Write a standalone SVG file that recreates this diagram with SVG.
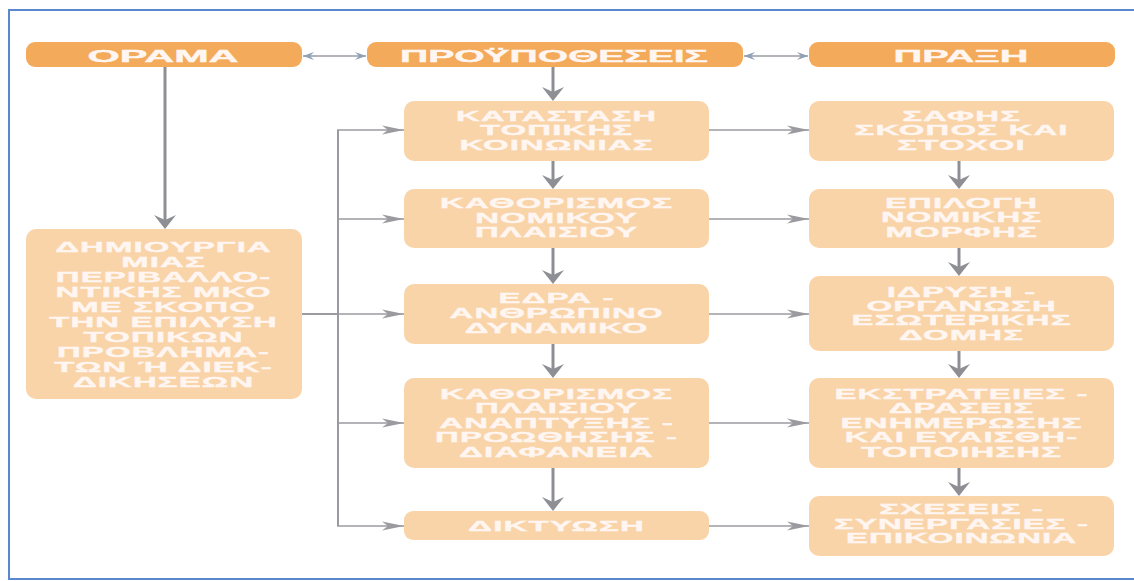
<svg xmlns="http://www.w3.org/2000/svg" width="1134" height="581" viewBox="0 0 1134 581">
<style>
.hdr{fill:#F4AA5B}
.box{fill:#F9D4A9}
.ht{font-family:"Liberation Sans",Arial,sans-serif;font-weight:bold;font-size:17px;fill:#FFF6F2;stroke:#FFF6F2;stroke-width:0.4;text-anchor:middle}
.bt{font-family:"Liberation Sans",Arial,sans-serif;font-weight:bold;font-size:14px;letter-spacing:0.5px;fill:#FFF6F2;stroke:#FFF6F2;stroke-width:0.35;text-anchor:middle}
.v{stroke:#8E8E95;stroke-width:3;fill:none;marker-end:url(#va)}
.h{stroke:#9A9AA0;stroke-width:1.6;fill:none;marker-end:url(#ha)}
.bus{stroke:#9A9AA0;stroke-width:2;fill:none}
.d{stroke:#9A9CA3;stroke-width:1.5;fill:none;marker-start:url(#da);marker-end:url(#da)}
</style>
<defs>
<marker id="va" markerUnits="userSpaceOnUse" viewBox="-15 -12 16 24" refX="-4" refY="0" markerWidth="16" markerHeight="24" orient="auto">
<path d="M0,0 L-14,-11 L-9,0 L-14,11 Z" fill="#8E8E95"/>
</marker>
<marker id="ha" markerUnits="userSpaceOnUse" viewBox="-25 -6 26 12" refX="0" refY="0" markerWidth="26" markerHeight="12" orient="auto">
<path d="M0,0 L-22,-4.5 L-16,0 L-22,4.5 Z" fill="#9A9AA0"/>
</marker>
<marker id="da" markerUnits="userSpaceOnUse" viewBox="-12 -5 13 10" refX="0" refY="0" markerWidth="13" markerHeight="10" orient="auto-start-reverse">
<path d="M0,0 L-11,-4 L-7,0 L-11,4 Z" fill="#8FA0B6"/>
</marker>
</defs>
<rect width="1134" height="581" fill="#FFFFFF"/>
<rect x="9" y="10" width="1135" height="569" fill="none" stroke="#5A88CC" stroke-width="2"/>

<g id="connectors">
<line class="d" x1="303" y1="56" x2="366" y2="56"/>
<line class="d" x1="744" y1="56" x2="808" y2="56"/>
<line class="v" x1="165" y1="67" x2="165" y2="225"/>
<line class="v" x1="553" y1="67" x2="553" y2="97"/>
<line class="v" x1="553" y1="161" x2="553" y2="185"/>
<line class="v" x1="553" y1="248" x2="553" y2="280"/>
<line class="v" x1="553" y1="344" x2="553" y2="374"/>
<line class="v" x1="553" y1="468" x2="553" y2="507"/>
<line class="v" x1="959" y1="161" x2="959" y2="185"/>
<line class="v" x1="959" y1="248" x2="959" y2="272"/>
<line class="v" x1="959" y1="351" x2="959" y2="374"/>
<line class="v" x1="959" y1="468" x2="959" y2="492"/>
<polyline class="bus" points="338,130 338,526"/>
<line class="bus" x1="301" y1="314" x2="338" y2="314"/>
<line class="h" x1="337" y1="130" x2="404" y2="130"/>
<line class="h" x1="337" y1="219" x2="404" y2="219"/>
<line class="h" x1="337" y1="314" x2="404" y2="314"/>
<line class="h" x1="337" y1="423" x2="404" y2="423"/>
<line class="h" x1="337" y1="526" x2="404" y2="526"/>
<line class="h" x1="709" y1="130" x2="809" y2="130"/>
<line class="h" x1="709" y1="219" x2="809" y2="219"/>
<line class="h" x1="709" y1="314" x2="809" y2="314"/>
<line class="h" x1="709" y1="423" x2="809" y2="423"/>
<line class="h" x1="709" y1="526" x2="809" y2="526"/>
</g>

<g id="orama">
<rect class="hdr" x="26" y="42" width="276" height="25" rx="9"/>
<text class="ht" x="163" y="62" textLength="151" lengthAdjust="spacingAndGlyphs">ΟΡΑΜΑ</text>
</g>
<g id="proypotheseis">
<rect class="hdr" x="367" y="42" width="376" height="25" rx="9"/>
<text class="ht" x="554" y="62" textLength="308" lengthAdjust="spacingAndGlyphs">ΠΡΟΫΠΟΘΕΣΕΙΣ</text>
</g>
<g id="praxi">
<rect class="hdr" x="809" y="42" width="306" height="25" rx="9"/>
<text class="ht" x="961" y="62" textLength="135" lengthAdjust="spacingAndGlyphs">ΠΡΑΞΗ</text>
</g>

<g id="dimiourgia">
<rect class="box" x="26" y="229" width="276" height="170" rx="10"/>
<g transform="translate(163,0) scale(2.35,1)">
<text class="bt" x="0.25" y="252">ΔΗΜΙΟΥΡΓΙΑ</text>
<text class="bt" x="0.25" y="267">ΜΙΑΣ</text>
<text class="bt" x="0.25" y="282">ΠΕΡΙΒΑΛΛΟ-</text>
<text class="bt" x="0.25" y="297">ΝΤΙΚΗΣ ΜΚΟ</text>
<text class="bt" x="0.25" y="312">ΜΕ ΣΚΟΠΟ</text>
<text class="bt" x="0.25" y="327">ΤΗΝ ΕΠΙΛΥΣΗ</text>
<text class="bt" x="0.25" y="342">ΤΟΠΙΚΩΝ</text>
<text class="bt" x="0.25" y="357">ΠΡΟΒΛΗΜΑ-</text>
<text class="bt" x="0.25" y="372">ΤΩΝ Ή ΔΙΕΚ-</text>
<text class="bt" x="0.25" y="387">ΔΙΚΗΣΕΩΝ</text>
</g>
</g>

<g id="katastasi">
<rect class="box" x="404" y="101" width="305" height="60" rx="10"/>
<g transform="translate(556,0) scale(2.35,1)">
<text class="bt" x="0.25" y="121">ΚΑΤΑΣΤΑΣΗ</text>
<text class="bt" x="0.25" y="135.5">ΤΟΠΙΚΗΣ</text>
<text class="bt" x="0.25" y="150">ΚΟΙΝΩΝΙΑΣ</text>
</g>
</g>
<g id="kathorismos-nomikou">
<rect class="box" x="404" y="189" width="305" height="59" rx="10"/>
<g transform="translate(556,0) scale(2.35,1)">
<text class="bt" x="0.25" y="208.5">ΚΑΘΟΡΙΣΜΟΣ</text>
<text class="bt" x="0.25" y="223">ΝΟΜΙΚΟΥ</text>
<text class="bt" x="0.25" y="237.5">ΠΛΑΙΣΙΟΥ</text>
</g>
</g>
<g id="edra">
<rect class="box" x="404" y="284" width="305" height="60" rx="10"/>
<g transform="translate(556,0) scale(2.35,1)">
<text class="bt" x="0.25" y="303.5">ΕΔΡΑ -</text>
<text class="bt" x="0.25" y="318.5">ΑΝΘΡΩΠΙΝΟ</text>
<text class="bt" x="0.25" y="333.5">ΔΥΝΑΜΙΚΟ</text>
</g>
</g>
<g id="kathorismos-plaisiou">
<rect class="box" x="404" y="378" width="305" height="90" rx="10"/>
<g transform="translate(556,0) scale(2.35,1)">
<text class="bt" x="0.25" y="399">ΚΑΘΟΡΙΣΜΟΣ</text>
<text class="bt" x="0.25" y="413.4">ΠΛΑΙΣΙΟΥ</text>
<text class="bt" x="0.25" y="427.8">ΑΝΑΠΤΥΞΗΣ -</text>
<text class="bt" x="0.25" y="442.2">ΠΡΟΩΘΗΣΗΣ -</text>
<text class="bt" x="0.25" y="456.6">ΔΙΑΦΑΝΕΙΑ</text>
</g>
</g>
<g id="diktyosi">
<rect class="box" x="404" y="511" width="305" height="29" rx="9"/>
<g transform="translate(556,0) scale(2.35,1)">
<text class="bt" x="0.25" y="531">ΔΙΚΤΥΩΣΗ</text>
</g>
</g>

<g id="safis">
<rect class="box" x="809" y="101" width="305" height="60" rx="10"/>
<g transform="translate(961,0) scale(2.35,1)">
<text class="bt" x="0.25" y="121">ΣΑΦΗΣ</text>
<text class="bt" x="0.25" y="135.5">ΣΚΟΠΟΣ ΚΑΙ</text>
<text class="bt" x="0.25" y="150">ΣΤΟΧΟΙ</text>
</g>
</g>
<g id="epilogi">
<rect class="box" x="809" y="189" width="305" height="59" rx="10"/>
<g transform="translate(961,0) scale(2.35,1)">
<text class="bt" x="0.25" y="208">ΕΠΙΛΟΓΗ</text>
<text class="bt" x="0.25" y="222.5">ΝΟΜΙΚΗΣ</text>
<text class="bt" x="0.25" y="237">ΜΟΡΦΗΣ</text>
</g>
</g>
<g id="idrysi">
<rect class="box" x="809" y="276" width="305" height="75" rx="10"/>
<g transform="translate(961,0) scale(2.35,1)">
<text class="bt" x="0.25" y="296.7">ΙΔΡΥΣΗ -</text>
<text class="bt" x="0.25" y="311.1">ΟΡΓΑΝΩΣΗ</text>
<text class="bt" x="0.25" y="325.5">ΕΣΩΤΕΡΙΚΗΣ</text>
<text class="bt" x="0.25" y="339.9">ΔΟΜΗΣ</text>
</g>
</g>
<g id="ekstrateies">
<rect class="box" x="809" y="378" width="305" height="90" rx="10"/>
<g transform="translate(961,0) scale(2.35,1)">
<text class="bt" x="0.25" y="399">ΕΚΣΤΡΑΤΕΙΕΣ -</text>
<text class="bt" x="0.25" y="413.4">ΔΡΑΣΕΙΣ</text>
<text class="bt" x="0.25" y="427.8">ΕΝΗΜΕΡΩΣΗΣ</text>
<text class="bt" x="0.25" y="442.2">ΚΑΙ ΕΥΑΙΣΘΗ-</text>
<text class="bt" x="0.25" y="456.6">ΤΟΠΟΙΗΣΗΣ</text>
</g>
</g>
<g id="scheseis">
<rect class="box" x="809" y="496" width="305" height="60" rx="10"/>
<g transform="translate(961,0) scale(2.35,1)">
<text class="bt" x="0.25" y="514.3">ΣΧΕΣΕΙΣ -</text>
<text class="bt" x="0.25" y="528.8">ΣΥΝΕΡΓΑΣΙΕΣ -</text>
<text class="bt" x="0.25" y="543.3">ΕΠΙΚΟΙΝΩΝΙΑ</text>
</g>
</g>
</svg>
